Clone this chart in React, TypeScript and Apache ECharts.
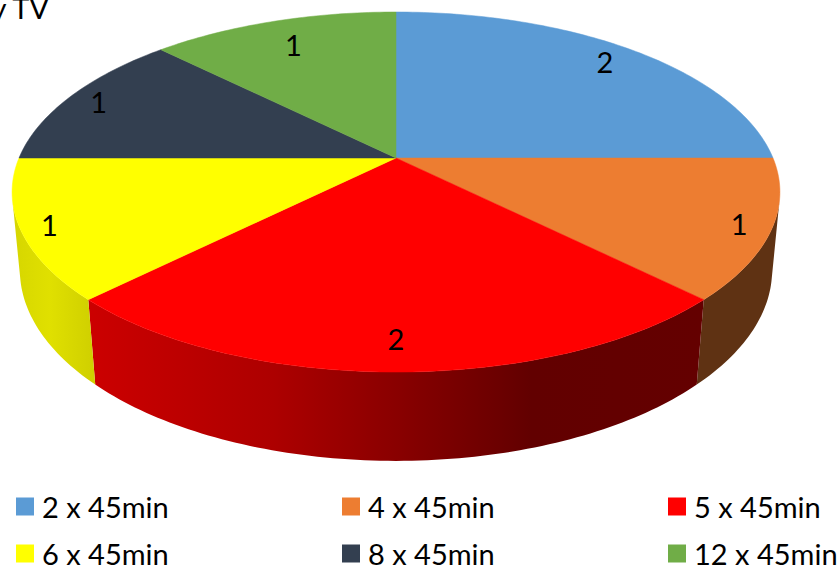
import React, { useEffect, useRef } from "react";
import * as echarts from "echarts";

const categories = ["2 x 45min", "4 x 45min", "5 x 45min", "6 x 45min", "8 x 45min", "12 x 45min"];
const counts = [2, 1, 2, 1, 1, 1];
const topColors = ["#5b9bd5", "#ed7d31", "#ff0000", "#ffff00", "#333f50", "#70ad47"];
const sideStops: [number, string][][] = [
  [[0, "#2f5f8c"], [1, "#2f5f8c"]],
  [[0, "#5f3213"], [1, "#5f3213"]],
  [[0, "#cc0000"], [0.3, "#ad0000"], [0.72, "#620000"], [1, "#640000"]],
  [[0, "#d6d600"], [0.45, "#e0e000"], [1, "#cfcf00"]],
  [[0, "#222a36"], [1, "#222a36"]],
  [[0, "#4a7530"], [1, "#4a7530"]],
];
const labelReach = [0.875, 0.92, 0.867, 0.928, 0.91, 0.811];

// Tilted-disc projection: unit circle in the pie plane to screen pixels.
const HUB_X = 396;
const HUB_Y = 158;
const SCALE_X = 377;
const SCALE_Y = 173.6;
const TILT = 0.189;
const DROP_Y = 78.1;
const DROP_W = 0.02;
const FONT = "Lato, Carlito, sans-serif";
const FONT_SIZE = 29;

type Pt = [number, number];

const total = counts.reduce((a, b) => a + b, 0);

function project(angle: number, r: number, drop = 0): Pt {
  const ux = Math.sin(angle) * r;
  const uy = -Math.cos(angle) * r;
  const w = 1 - TILT * uy + DROP_W * drop;
  return [HUB_X + (SCALE_X * ux) / w, HUB_Y + (SCALE_Y * uy + DROP_Y * drop) / w];
}

function arc(from: number, to: number, drop = 0): Pt[] {
  const steps = Math.max(2, Math.ceil((to - from) / (Math.PI / 180)));
  const pts: Pt[] = [];
  for (let i = 0; i <= steps; i++) pts.push(project(from + ((to - from) * i) / steps, 1, drop));
  return pts;
}

// Outlines of the outward-facing stretches of a wall. Back-facing stretches sit
// under the top faces, and leaving them out avoids the fold at the silhouette.
function frontFacingRuns(rim: Pt[], lower: Pt[]): Pt[][] {
  const runs: Pt[][] = [];
  let start = -1;
  const flush = (end: number) => {
    if (start >= 0) {
      runs.push([...rim.slice(start, end + 1), ...lower.slice(start, end + 1).reverse()]);
    }
    start = -1;
  };
  for (let i = 0; i < rim.length - 1; i++) {
    const ax = rim[i + 1][0] - rim[i][0];
    const ay = rim[i + 1][1] - rim[i][1];
    const bx = lower[i + 1][0] - rim[i + 1][0];
    const by = lower[i + 1][1] - rim[i + 1][1];
    if (ax * by - ay * bx < 0) {
      if (start < 0) start = i;
    } else {
      flush(i);
    }
  }
  flush(rim.length - 1);
  return runs;
}

function sliceRenderer(index: number) {
  return () => {
    const before = counts.slice(0, index).reduce((a, b) => a + b, 0);
    const from = (before / total) * Math.PI * 2;
    const to = ((before + counts[index]) / total) * Math.PI * 2;
    const mid = (from + to) / 2;

    const rim = arc(from, to);
    const lower = arc(from, to, 1);
    const wallXs = [...rim, ...lower].map((p) => p[0]);
    const wallFill = new echarts.graphic.LinearGradient(
      Math.min(...wallXs), 0, Math.max(...wallXs), 0,
      sideStops[index].map(([offset, color]) => ({ offset, color })),
      true,
    );
    const walls = frontFacingRuns(rim, lower).map((points) => ({
      type: "polygon",
      z2: 1,
      shape: { points },
      style: { fill: wallFill },
    }));
    const [lx, ly] = project(mid, labelReach[index]);

    return {
      type: "group",
      children: [
        ...walls,
        {
          type: "polygon",
          z2: 10,
          shape: { points: [[HUB_X, HUB_Y], ...rim] },
          style: { fill: topColors[index], stroke: topColors[index], lineWidth: 0.5 },
        },
        {
          type: "text",
          z2: 20,
          style: {
            x: lx,
            y: ly,
            text: String(counts[index]),
            fill: "#000000",
            font: `${FONT_SIZE}px ${FONT}`,
            align: "center",
            verticalAlign: "middle",
          },
        },
      ],
    };
  };
}

export default function App() {
  const ref = useRef<HTMLDivElement>(null);

  useEffect(() => {
    const chart = echarts.init(ref.current!, undefined, { renderer: "svg" });
    chart.setOption({
      animation: false,
      backgroundColor: "#ffffff",
      graphic: [
        {
          type: "text",
          x: 49,
          y: 7,
          style: {
            text: "y TV",
            fill: "#000000",
            font: `${FONT_SIZE}px ${FONT}`,
            align: "right",
            verticalAlign: "middle",
          },
        },
      ],
      legend: categories.map((name, i) => ({
        data: [name],
        left: 16 + 326 * (i % 3),
        top: i < 3 ? 492 : 539,
        padding: 0,
        icon: "rect",
        itemWidth: 18,
        itemHeight: 18,
        selectedMode: false,
        textStyle: {
          color: "#000000",
          fontFamily: FONT,
          fontSize: FONT_SIZE,
          padding: [0, 0, 0, 3],
        },
      })),
      series: categories.map((name, i) => ({
        type: "custom",
        name,
        coordinateSystem: "none",
        silent: true,
        itemStyle: { color: topColors[i] },
        data: [[counts[i]]],
        renderItem: sliceRenderer(i),
      })),
    });
    return () => chart.dispose();
  }, []);

  return <div ref={ref} style={{ position: "fixed", left: 0, top: 0, width: 838, height: 567 }} />;
}
